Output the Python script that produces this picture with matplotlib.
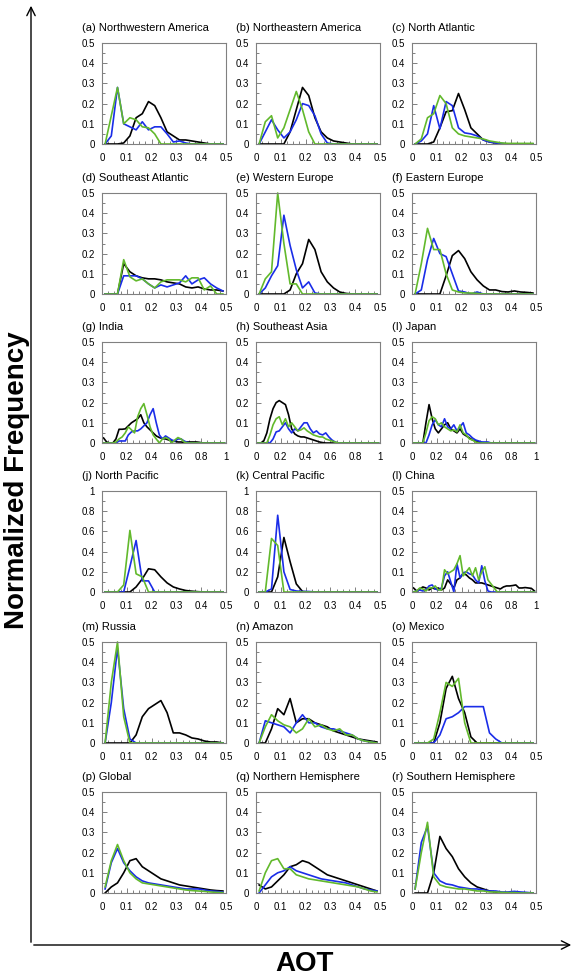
# AOT frequency distributions for 18 regions, 3 x 6 grid of small panels
import matplotlib.pyplot as plt
import numpy as np
from matplotlib.patches import FancyArrowPatch
from matplotlib.ticker import MultipleLocator, FuncFormatter

plt.rcParams['font.family'] = ['Liberation Sans', 'DejaVu Sans']

# bin centres of the AOT histograms
aot_half = np.arange(20) * 0.025 + 0.0125   # panels going 0 - 0.5
aot_full = np.arange(40) * 0.025 + 0.0125   # panels going 0 - 1

titles = ['(a) Northwestern America', '(b) Northeastern America', '(c) North Atlantic',
          '(d) Southeast Atlantic', '(e) Western Europe', '(f) Eastern Europe',
          '(g) India', '(h) Southeast Asia', '(I) Japan',
          '(j) North Pacific', '(k) Central Pacific', '(l) China',
          '(m) Russia', '(n) Amazon', '(o) Mexico',
          '(p) Global', '(q) Northern Hemisphere', '(r) Southern Hemisphere']
x_max = [0.5, 0.5, 0.5, 0.5, 0.5, 0.5, 1, 1, 1, 0.5, 0.5, 1, 0.5, 0.5, 0.5, 0.5, 0.5, 0.5]
y_max = [0.5, 0.5, 0.5, 0.5, 0.5, 0.5, 0.5, 0.5, 0.5, 1, 1, 0.5, 0.5, 0.5, 0.5, 0.5, 0.5, 0.5]

black_a = [0, 0, 0, 0.005, 0.04, 0.13, 0.15, 0.21, 0.19, 0.13, 0.06, 0.04, 0.02, 0.02, 0.015, 0.01, 0.005, 0, 0, 0]
blue_a = [0, 0.04, 0.28, 0.10, 0.085, 0.07, 0.11, 0.07, 0.085, 0.085, 0.05, 0.01, 0.015, 0.005, 0, 0, 0, 0, 0, 0]
green_a = [0, 0.14, 0.28, 0.10, 0.13, 0.12, 0.085, 0.08, 0.05, 0, 0, 0, 0, 0, 0, 0, 0, 0, 0, 0]

black_b = [0, 0, 0, 0, 0, 0.06, 0.17, 0.28, 0.24, 0.13, 0.06, 0.03, 0.015, 0.01, 0.005, 0, 0, 0, 0, 0]
blue_b = [0, 0.06, 0.12, 0.07, 0.03, 0.06, 0.12, 0.2, 0.19, 0.14, 0.05, 0.005, 0, 0, 0, 0, 0, 0, 0, 0]
green_b = [0, 0.11, 0.14, 0.03, 0.08, 0.17, 0.26, 0.17, 0.06, 0, 0, 0, 0, 0, 0, 0, 0, 0, 0, 0]

black_c = [0, 0, 0, 0.01, 0.08, 0.16, 0.165, 0.25, 0.17, 0.08, 0.05, 0.02, 0.01, 0.005, 0, 0, 0, 0, 0, 0]
blue_c = [0, 0.015, 0.05, 0.19, 0.075, 0.21, 0.19, 0.08, 0.055, 0.05, 0.04, 0.02, 0.01, 0.005, 0.003, 0, 0, 0, 0, 0]
green_c = [0, 0.025, 0.13, 0.15, 0.24, 0.2, 0.08, 0.05, 0.04, 0.035, 0.03, 0.025, 0.015, 0.01, 0.005, 0.003, 0.003, 0.003, 0.003, 0.003]

black_d = [0, 0, 0, 0.15, 0.11, 0.09, 0.08, 0.075, 0.075, 0.07, 0.06, 0.055, 0.05, 0.035, 0.03, 0.035, 0.025, 0.02, 0.02, 0.015]
blue_d = [0, 0, 0, 0.09, 0.09, 0.09, 0.075, 0.05, 0.03, 0.045, 0.035, 0.045, 0.055, 0.09, 0.05, 0.07, 0.08, 0.05, 0.03, 0.015]
green_d = [0, 0, 0, 0.17, 0.085, 0.065, 0.075, 0.05, 0.03, 0.06, 0.07, 0.07, 0.07, 0.06, 0.08, 0.08, 0.02, 0.04, 0, 0]

black_e = [0, 0, 0, 0, 0, 0.02, 0.1, 0.15, 0.27, 0.22, 0.11, 0.06, 0.03, 0.01, 0.003, 0, 0, 0, 0, 0]
blue_e = [0, 0.03, 0.09, 0.14, 0.39, 0.24, 0.12, 0.03, 0.06, 0.005, 0, 0, 0, 0, 0, 0, 0, 0, 0, 0]
green_e = [0, 0.075, 0.11, 0.5, 0.25, 0.05, 0.05, 0, 0, 0, 0, 0, 0, 0, 0, 0, 0, 0, 0, 0]

black_f = [0, 0, 0, 0, 0, 0.09, 0.19, 0.215, 0.175, 0.11, 0.07, 0.04, 0.02, 0.02, 0.012, 0.01, 0.015, 0.01, 0.008, 0.005]
blue_f = [0, 0.02, 0.17, 0.275, 0.2, 0.185, 0.1, 0.015, 0.01, 0, 0.01, 0, 0, 0, 0, 0, 0, 0, 0, 0]
green_f = [0, 0.15, 0.325, 0.22, 0.22, 0.1, 0.02, 0.01, 0.005, 0.005, 0.003, 0, 0, 0, 0, 0, 0, 0, 0, 0]

black_g = [0.025, 0.005, 0, 0, 0.02, 0.068, 0.068, 0.07, 0.085, 0.1,
           0.11, 0.12, 0.14, 0.1, 0.08, 0.065, 0.05, 0.035, 0.027, 0.022,
           0.02, 0.015, 0.01, 0.008, 0.005, 0.005, 0.003, 0.005, 0.005, 0.005,
           0.005, 0.003, 0, 0, 0, 0, 0, 0, 0, 0]
blue_g = [0, 0, 0, 0, 0, 0.01, 0.01, 0.01, 0.04, 0.055,
          0.06, 0.06, 0.07, 0.085, 0.1, 0.14, 0.17, 0.1, 0.04, 0.02,
          0.035, 0.025, 0.015, 0.01, 0.02, 0.02, 0.01, 0.003, 0, 0] + [0] * 10
green_g = [0, 0, 0, 0, 0.005, 0.02, 0.03, 0.05, 0.08, 0.065,
           0.05, 0.13, 0.17, 0.195, 0.14, 0.08, 0.04, 0.02, 0, 0.02,
           0.027, 0.02, 0, 0.015, 0.027, 0.02, 0.005, 0, 0, 0] + [0] * 10

black_h = [0, 0, 0.01, 0.05, 0.12, 0.17, 0.2, 0.21, 0.2, 0.19,
           0.14, 0.07, 0.045, 0.035, 0.03, 0.03, 0.025, 0.02, 0.015, 0.01,
           0.005, 0.002] + [0] * 18
blue_h = [0, 0, 0, 0, 0, 0.02, 0.055, 0.06, 0.08, 0.1,
          0.07, 0.05, 0.07, 0.06, 0.08, 0.1, 0.1, 0.07, 0.05, 0.06,
          0.045, 0.04, 0.05, 0.03, 0.015, 0.005, 0] + [0] * 13
green_h = [0, 0, 0, 0, 0.04, 0.09, 0.12, 0.13, 0.09, 0.12,
           0.08, 0.1, 0.08, 0.06, 0.065, 0.075, 0.06, 0.05, 0.04, 0.035,
           0.03, 0.03, 0.02, 0.015, 0.01, 0.005, 0] + [0] * 13

black_i = [0, 0, 0, 0, 0.1, 0.19, 0.12, 0.07, 0.05, 0.07,
           0.09, 0.1, 0.07, 0.06, 0.05, 0.07, 0.045, 0.035, 0.025, 0.015,
           0.01, 0.005, 0.002] + [0] * 17
blue_i = [0, 0, 0, 0, 0, 0.04, 0.09, 0.115, 0.09, 0.08,
          0.12, 0.08, 0.07, 0.09, 0.06, 0.08, 0.1, 0.05, 0.04, 0.025,
          0.015, 0.01, 0.005, 0.005, 0.005] + [0] * 15
green_i = [0, 0, 0, 0, 0.05, 0.11, 0.13, 0.12, 0.09, 0.1,
           0.08, 0.07, 0.06, 0.065, 0.055, 0.09, 0.05, 0.04, 0.02, 0.015,
           0.005] + [0] * 19

black_j = [0, 0, 0, 0, 0, 0.05, 0.13, 0.23, 0.22, 0.15, 0.09, 0.05, 0.03, 0.015, 0.008, 0.003, 0, 0, 0, 0]
blue_j = [0, 0, 0, 0, 0.25, 0.51, 0.11, 0.11, 0, 0, 0, 0, 0, 0, 0, 0, 0, 0, 0, 0]
green_j = [0, 0, 0, 0.07, 0.61, 0.18, 0.15, 0, 0, 0, 0, 0, 0, 0, 0, 0, 0, 0, 0, 0]

black_k = [0, 0, 0, 0.15, 0.54, 0.3, 0.08, 0.005, 0, 0, 0, 0, 0, 0, 0, 0, 0, 0, 0, 0]
blue_k = [0, 0, 0.03, 0.76, 0.2, 0.025, 0.01, 0.005, 0.005, 0, 0, 0, 0, 0, 0, 0, 0, 0, 0, 0]
green_k = [0, 0, 0.53, 0.46, 0, 0, 0, 0, 0, 0, 0, 0, 0, 0, 0, 0, 0, 0, 0, 0]

black_l = [0.02, 0.005, 0.015, 0.025, 0.02, 0.01, 0.02, 0.015, 0.02, 0.01,
           0.02, 0.06, 0.04, 0.02, 0.06, 0.07, 0.09, 0.085, 0.07, 0.06,
           0.045, 0.045, 0.045, 0.04, 0.035, 0.03, 0.025, 0.02, 0.015, 0.025,
           0.03, 0.03, 0.032, 0.035, 0.02, 0.02, 0.022, 0.02, 0.018, 0.005]
blue_l = [0, 0.005, 0.01, 0.005, 0.01, 0.03, 0.035, 0.015, 0.01, 0.02,
          0.08, 0.1, 0.05, 0, 0.14, 0.07, 0.095, 0.1, 0.09, 0.085,
          0.06, 0.045, 0.13, 0.055, 0.005, 0, 0, 0, 0, 0] + [0] * 10
green_l = [0, 0.005, 0.02, 0.015, 0.005, 0.02, 0.02, 0.03, 0.01, 0.01,
           0.11, 0.09, 0.1, 0.11, 0.14, 0.18, 0.08, 0.1, 0.12, 0.08,
           0.12, 0.06, 0.1, 0.125, 0.06, 0.04, 0.02, 0, 0, 0] + [0] * 10

black_m = [0, 0, 0, 0, 0, 0.04, 0.13, 0.17, 0.19, 0.21, 0.15, 0.05, 0.05, 0.04, 0.025, 0.02, 0.01, 0.005, 0.005, 0]
blue_m = [0, 0.2, 0.47, 0.17, 0.02, 0, 0, 0, 0, 0, 0, 0, 0, 0, 0, 0, 0, 0, 0, 0]
green_m = [0, 0.3, 0.5, 0.13, 0, 0, 0, 0, 0, 0, 0, 0, 0, 0, 0, 0, 0, 0, 0, 0]

black_n = [0, 0, 0.07, 0.17, 0.14, 0.22, 0.1, 0.12, 0.12, 0.1, 0.09, 0.08, 0.06, 0.05, 0.04, 0.03, 0.02, 0.015, 0.01, 0.005]
blue_n = [0, 0.11, 0.1, 0.09, 0.08, 0.05, 0.1, 0.14, 0.1, 0.1, 0.08, 0.07, 0.07, 0.06, 0.05, 0.04, 0.02, 0.01, 0.005, 0]
green_n = [0, 0.08, 0.14, 0.11, 0.09, 0.08, 0.05, 0.07, 0.12, 0.08, 0.09, 0.07, 0.06, 0.07, 0.04, 0.04, 0.02, 0.01, 0.005, 0]

black_o = [0, 0, 0, 0, 0.1, 0.27, 0.33, 0.22, 0.15, 0.03, 0, 0, 0, 0, 0, 0, 0, 0, 0, 0]
blue_o = [0, 0, 0, 0, 0.04, 0.12, 0.13, 0.15, 0.18, 0.18, 0.18, 0.18, 0.05, 0.02, 0, 0, 0, 0, 0, 0]
green_o = [0, 0, 0, 0.02, 0.15, 0.3, 0.28, 0.32, 0.1, 0, 0, 0, 0, 0, 0, 0, 0, 0, 0, 0]

black_p = [0, 0.03, 0.05, 0.1, 0.16, 0.17, 0.13, 0.11, 0.09, 0.07, 0.06, 0.05, 0.04, 0.035, 0.03, 0.025, 0.02, 0.015, 0.012, 0.01]
blue_p = [0.02, 0.15, 0.22, 0.15, 0.11, 0.08, 0.06, 0.05, 0.045, 0.04, 0.035, 0.03, 0.025, 0.02, 0.02, 0.02, 0.015, 0.01, 0.008, 0.005]
green_p = [0.03, 0.16, 0.24, 0.16, 0.1, 0.07, 0.05, 0.045, 0.04, 0.035, 0.03, 0.025, 0.02, 0.015, 0.012, 0.01, 0.008, 0.005, 0.003, 0.002]

black_q = [0.04, 0.02, 0.03, 0.06, 0.09, 0.13, 0.14, 0.16, 0.15, 0.13, 0.11, 0.09, 0.08, 0.07, 0.06, 0.05, 0.04, 0.03, 0.02, 0.01]
blue_q = [0, 0.04, 0.08, 0.1, 0.11, 0.13, 0.11, 0.1, 0.09, 0.08, 0.07, 0.065, 0.06, 0.055, 0.05, 0.04, 0.03, 0.02, 0.015, 0.01]
green_q = [0.01, 0.1, 0.16, 0.17, 0.12, 0.12, 0.09, 0.08, 0.07, 0.065, 0.06, 0.055, 0.05, 0.045, 0.04, 0.035, 0.03, 0.02, 0.01, 0.005]

black_r = [0, 0, 0, 0.1, 0.28, 0.22, 0.18, 0.12, 0.08, 0.05, 0.03, 0.02, 0.01, 0.005, 0, 0, 0, 0, 0, 0]
blue_r = [0.02, 0.25, 0.33, 0.1, 0.06, 0.045, 0.04, 0.03, 0.025, 0.02, 0.02, 0.015, 0.01, 0.01, 0.005, 0.005, 0.008, 0.005, 0.003, 0]
green_r = [0.02, 0.2, 0.35, 0.08, 0.04, 0.03, 0.025, 0.02, 0.02, 0.015, 0.01, 0.01, 0.005, 0.005, 0.003, 0.002, 0.002, 0, 0, 0]

blacks = [black_a, black_b, black_c, black_d, black_e, black_f, black_g, black_h, black_i,
          black_j, black_k, black_l, black_m, black_n, black_o, black_p, black_q, black_r]
blues = [blue_a, blue_b, blue_c, blue_d, blue_e, blue_f, blue_g, blue_h, blue_i,
         blue_j, blue_k, blue_l, blue_m, blue_n, blue_o, blue_p, blue_q, blue_r]
greens = [green_a, green_b, green_c, green_d, green_e, green_f, green_g, green_h, green_i,
          green_j, green_k, green_l, green_m, green_n, green_o, green_p, green_q, green_r]

W, H = 576, 977
fig = plt.figure(figsize=(W / 100, H / 100), dpi=100)

col_left = [102, 256, 412]   # pixels
row_top = [43, 193, 342, 491, 642, 792]
ax_w, ax_h = 124, 101
frame = '#808080'

for i in range(18):
    r, c = divmod(i, 3)
    ax = fig.add_axes([col_left[c] / W, 1 - (row_top[r] + ax_h) / H, ax_w / W, ax_h / H])
    x = aot_full if x_max[i] == 1 else aot_half
    ax.plot(x, blacks[i], color='black', lw=1.2, clip_on=False)
    ax.plot(x, blues[i], color='#1a2de8', lw=1.2, clip_on=False)
    ax.plot(x, greens[i], color='#62b92c', lw=1.2, clip_on=False)
    ax.set_xlim(0, x_max[i])
    ax.set_ylim(0, y_max[i])
    ax.xaxis.set_major_locator(MultipleLocator(x_max[i] / 5))
    ax.xaxis.set_minor_locator(MultipleLocator(x_max[i] / 20))
    ax.yaxis.set_major_locator(MultipleLocator(y_max[i] / 5))
    ax.yaxis.set_minor_locator(MultipleLocator(y_max[i] / 10))
    fmt = FuncFormatter(lambda v, p: f'{v:g}')
    ax.xaxis.set_major_formatter(fmt)
    ax.yaxis.set_major_formatter(fmt)
    ax.tick_params(which='both', direction='in', color=frame, top=False, right=False,
                   labelsize=7, width=0.7)
    ax.tick_params(which='major', length=3.5)
    ax.tick_params(which='minor', length=2)
    ax.tick_params(axis='x', pad=6.5)
    ax.tick_params(axis='y', pad=5)
    for s in ax.spines.values():
        s.set_color(frame)
        s.set_linewidth(0.8)
    fig.text((col_left[c] - 20) / W, 1 - (row_top[r] - 15) / H, titles[i],
             fontsize=8, ha='left', va='center')

# big axis arrows round the whole grid
fig.add_artist(FancyArrowPatch((31 / W, 1 - 945 / H), (31 / W, 1 - 3 / H),
                               transform=fig.transFigure, arrowstyle='->,head_length=6,head_width=3',
                               color='black', lw=1))
fig.add_artist(FancyArrowPatch((31 / W, 1 - 945 / H), (574 / W, 1 - 945 / H),
                               transform=fig.transFigure, arrowstyle='->,head_length=6,head_width=3',
                               color='black', lw=1))
fig.text(17 / W, 1 - 480 / H, 'Normalized Frequency', rotation=90, fontsize=20,
         fontweight='bold', ha='center', va='center')
fig.text(305 / W, 1 - 964 / H, 'AOT', fontsize=20, fontweight='bold', ha='center', va='center')

fig.savefig('out.png', dpi=100)
